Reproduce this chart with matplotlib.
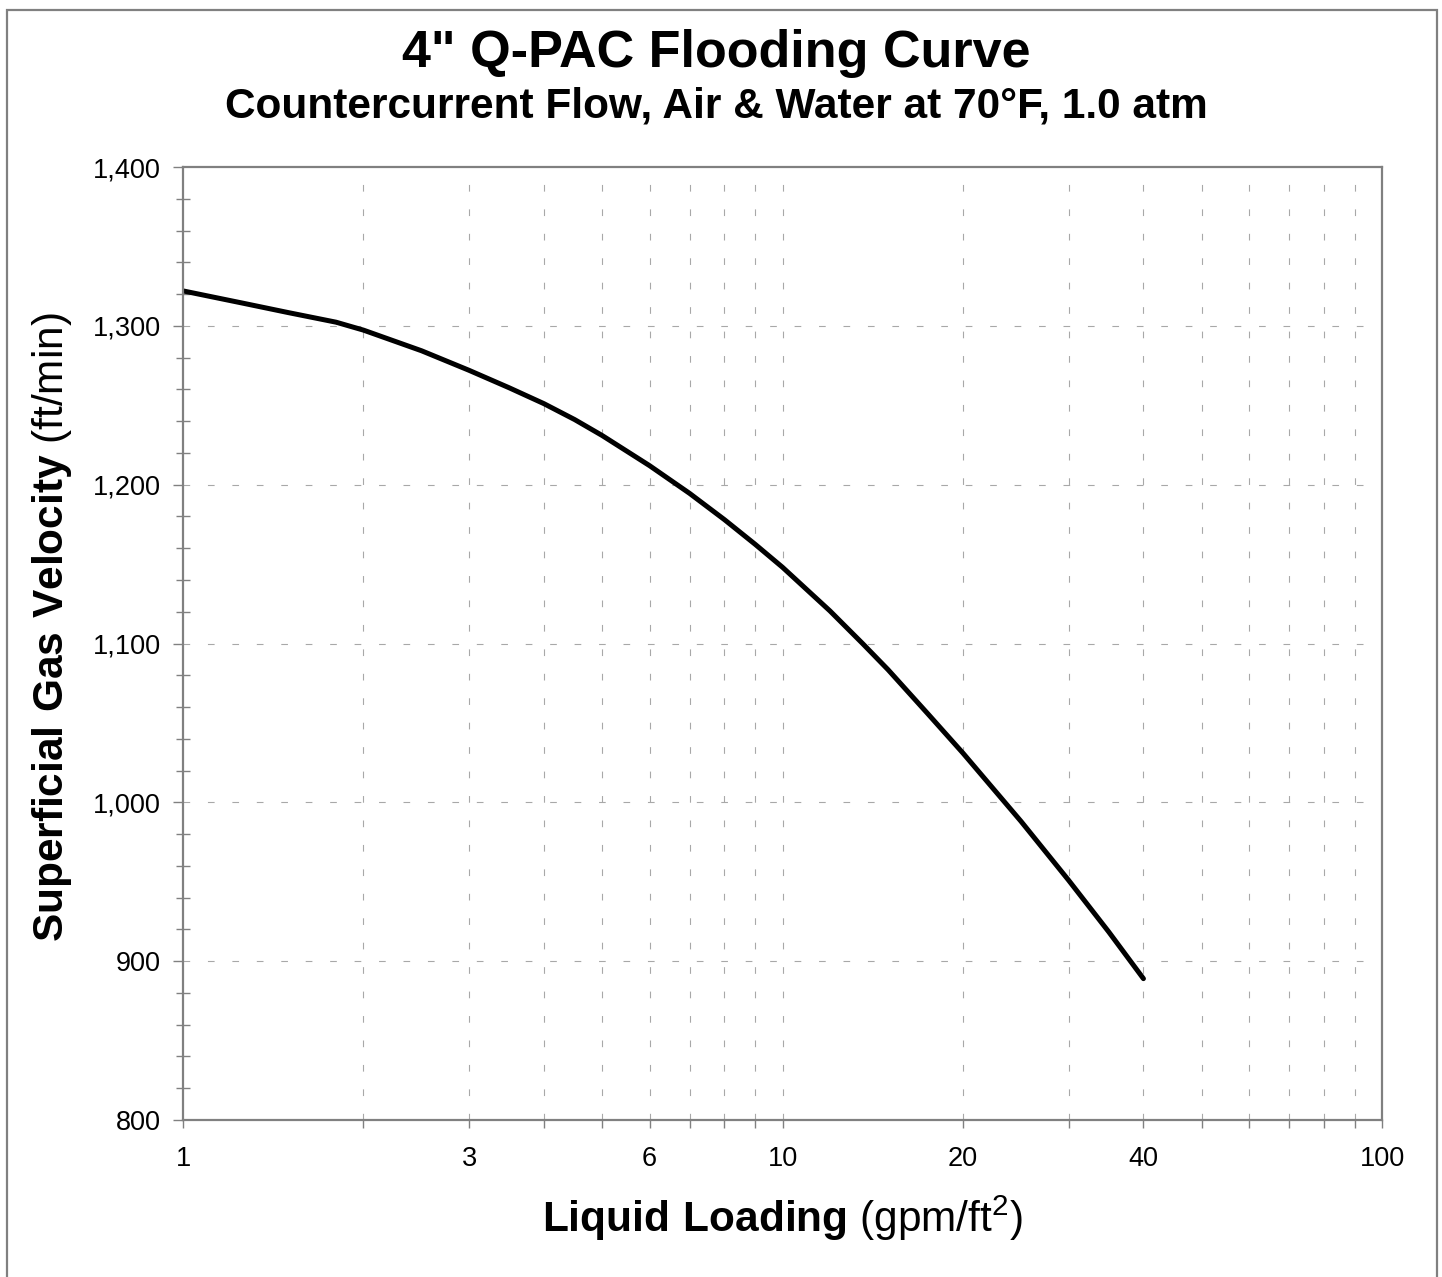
import matplotlib
matplotlib.use("Agg")
import matplotlib.pyplot as plt
from matplotlib.ticker import FixedLocator, FixedFormatter, MultipleLocator, FuncFormatter
from matplotlib.patches import Rectangle

# liquid loading (gpm/ft2) and flooding gas velocity (ft/min)
loading = [1, 1.25, 1.5, 1.8, 2, 2.5, 3, 3.5, 4, 4.5, 5, 6, 7, 8, 9, 10,
           12, 13.6, 15, 17.5, 20, 25, 30, 35, 40]
velocity = [1322, 1314.5, 1308.3, 1302.3, 1297.3, 1284.3, 1272, 1261, 1251,
            1241, 1231, 1212, 1194.5, 1178, 1162.5, 1148, 1120.5, 1100, 1083.5,
            1055.5, 1031, 988, 951, 918.5, 889]

x_labels = [1, 3, 6, 10, 20, 40, 100]
x_grid = [2, 3, 4, 5, 6, 7, 8, 9, 10, 20, 30, 40, 50, 60, 70, 80, 90]

title = "4\" Q-PAC Flooding Curve"
subtitle = "Countercurrent Flow, Air & Water at 70°F, 1.0 atm"

plt.rcParams["font.family"] = ["Liberation Sans", "DejaVu Sans"]
plt.rcParams["mathtext.fontset"] = "custom"
plt.rcParams["mathtext.rm"] = "Liberation Sans"
plt.rcParams["mathtext.bf"] = "Liberation Sans:bold"

W, H = 1442, 1277
fig = plt.figure(figsize=(W / 100, H / 100), dpi=100)
ax = fig.add_axes([183 / W, 1 - 1120 / H, (1382 - 183) / W, (1120 - 167) / H])

ax.plot(loading, velocity, color="black", lw=3.6, solid_capstyle="round",
        solid_joinstyle="round")

ax.set_xscale("log")
ax.set_xlim(1, 100)
ax.set_ylim(800, 1400)

ax.xaxis.set_major_locator(FixedLocator(x_labels))
ax.xaxis.set_major_formatter(FixedFormatter([str(v) for v in x_labels]))
ax.xaxis.set_minor_locator(FixedLocator([v for v in x_grid if v not in x_labels]))
ax.xaxis.set_minor_formatter(FixedFormatter([]))

ax.yaxis.set_major_locator(MultipleLocator(100))
ax.yaxis.set_minor_locator(MultipleLocator(20))
ax.yaxis.set_major_formatter(FuncFormatter(lambda v, p: f"{int(v):,}"))

gray = "#808080"
for s in ax.spines.values():
    s.set_color(gray)
    s.set_linewidth(1.6)

ax.tick_params(axis="x", which="both", direction="out", length=6, width=1,
               color=gray, labelsize=19.5, pad=13)
ax.tick_params(axis="y", which="major", direction="out", length=7, width=1,
               color=gray, labelsize=19.5, pad=9)
ax.tick_params(axis="y", which="minor", direction="inout", length=10, width=1,
               color=gray)

grid_style = dict(color="#a8a8a8", lw=0.8, linestyle=(0, (6, 16)))
for v in x_grid:
    ax.axvline(v, zorder=0, **grid_style)
for v in [900, 1000, 1100, 1200, 1300]:
    ax.axhline(v, zorder=0, **grid_style)

fig.text(716 / W, 1 - 53 / H, title, ha="center", va="center",
         fontsize=37.5, fontweight="bold")
fig.text(716 / W, 1 - 107 / H, subtitle, ha="center", va="center",
         fontsize=30.5, fontweight="bold")

fig.text(782 / W, 1 - 1218 / H, r"$\bf{Liquid\ Loading}$ (gpm/ft$^{2}$)",
         ha="center", va="center", fontsize=30.5)
fig.text(52 / W, 1 - 627 / H, r"$\bf{Superficial\ Gas\ Velocity}$ (ft/min)",
         ha="center", va="center", rotation=90, fontsize=30.5)

fig.patches.append(Rectangle((7 / W, -0.02), (1437 - 7) / W, 1 - 10 / H + 0.02,
                             transform=fig.transFigure, fill=False,
                             edgecolor=gray, lw=1.6))

fig.savefig("out.png", dpi=100)
